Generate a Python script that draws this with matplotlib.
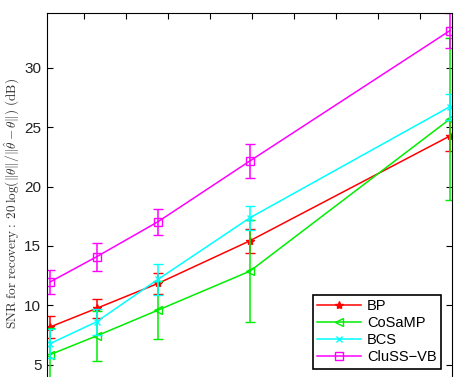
import matplotlib
matplotlib.use("Agg")
import matplotlib.pyplot as plt

# x positions (tick units; no tick labels shown in the chart)
x = [0.2, 1.3, 2.76, 4.95, 9.71]

bp = [8.17, 9.73, 11.83, 15.43, 24.27]
bp_err = [0.9, 0.8, 0.9, 1.0, 1.3]

cosamp = [5.84, 7.41, 9.58, 12.87, 25.7]
cosamp_err = [2.2, 2.1, 2.45, 4.3, 6.8]

bcs = [6.77, 8.6, 12.17, 17.37, 26.74]
bcs_err = [1.2, 1.1, 1.3, 1.0, 1.1]

cluss = [11.97, 14.08, 17.03, 22.16, 33.15]
cluss_err = [1.0, 1.2, 1.1, 1.45, 1.45]

plt.rcParams['font.family'] = ['Liberation Sans', 'DejaVu Sans']
plt.rcParams['mathtext.fontset'] = 'cm'

fig = plt.figure(figsize=(4.6, 3.77), dpi=100)
ax = fig.add_axes([0.102, -0.0424, 0.881, 1.0071])

series = [
    ("BP", bp, bp_err, "#ff0000", "*", 6, "#ff0000"),
    ("CoSaMP", cosamp, cosamp_err, "#00ee00", "<", 6, "none"),
    ("BCS", bcs, bcs_err, "#00ffff", "x", 5, "none"),
    ("CluSS\u2212VB", cluss, cluss_err, "#ff00ff", "s", 6, "none"),
]
for name, y, e, col, m, ms, fc in series:
    ax.errorbar(x, y, yerr=e, fmt='none', ecolor=col, capsize=3.5, elinewidth=1.1)
    ax.plot(x, y, color=col, marker=m, markersize=ms, markerfacecolor=fc,
            markeredgecolor=col, lw=1.1, label=name)

ax.set_xlim(0.12, 9.76)
ax.set_ylim(2.6, 34.6)
ax.set_xticks(range(1, 10))
ax.set_xticklabels([])
ax.set_yticks([5, 10, 15, 20, 25, 30])
ax.tick_params(direction='in', top=True, right=True, labelsize=11, length=4,
               labelcolor='#222222')
ax.tick_params(axis='y', pad=4)

ax.set_ylabel(r"$\mathrm{SNR\ for\ recovery{:}}\ 20\,\log(\|\theta\|/\|\hat{\theta}-\theta\|)\ \mathrm{(dB)}$",
              fontsize=9.5, color='#333333', labelpad=2)

leg = ax.legend(loc='lower right', bbox_to_anchor=(0.99, 0.045), fontsize=10.5,
                fancybox=False, edgecolor='black', framealpha=1,
                handlelength=3.0, borderpad=0.3, labelspacing=0.2,
                handletextpad=0.4)
leg.get_frame().set_linewidth(1.2)

plt.savefig("out.png", dpi=100)
